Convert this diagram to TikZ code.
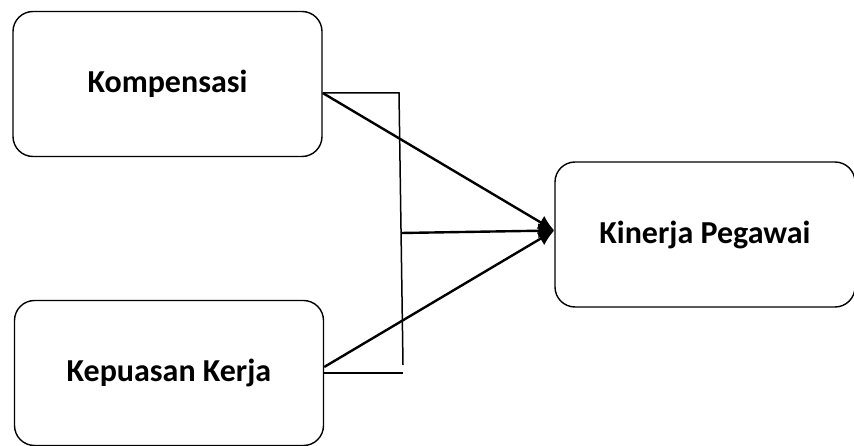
\documentclass[tikz,border=0pt]{standalone}
\usepackage{fontspec}
\setmainfont{Carlito}
\usetikzlibrary{arrows.meta}
\tikzset{
  varbox/.style = {draw = black, line width = 1.4pt, rounded corners = 20pt,
    minimum width = 309pt, minimum height = 145pt, font = \fontsize{32}{38}\selectfont\bfseries},
  arr/.style = {line width = 2.4pt, -{Latex[length = 16pt, width = 15pt]}},
  brace/.style = {line width = 1.5pt}
}
\begin{document}
\begin{tikzpicture}[x = 1pt, y = -1pt]
\useasboundingbox (0,0) rectangle (854,446);
\node[varbox] (komp) at (167.5,84) {Kompensasi};
\node[varbox] (kep) at (169,373) {Kepuasan Kerja};
\node[varbox, minimum width = 300pt] (kin) at (705,234.5) {Kinerja Pegawai};
\coordinate (bt) at (399,93);
\coordinate (bv) at (403,365);
\coordinate (bb) at (403,373);
\coordinate (bm) at (401,233);
\coordinate (tip) at ([yshift = 4pt]kin.west);
\draw[brace] (komp.east |- bt) -- (bt) -- (bv);
\draw[brace] (kep.east |- bb) -- (bb);
\draw[arr] (komp.east |- bt) -- (tip);
\draw[arr] (bm) -- (tip);
\draw[arr] (kep.east |- 0,367) -- (tip);
\end{tikzpicture}
\end{document}
